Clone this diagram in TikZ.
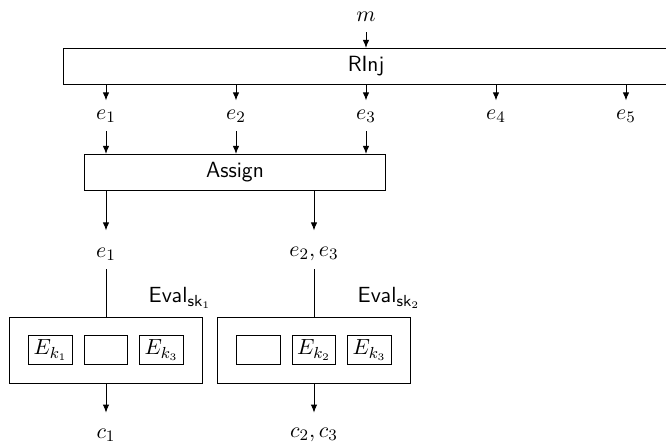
\documentclass[tikz,border=0pt]{standalone}
\usetikzlibrary{arrows.meta}
\begin{document}
\begin{tikzpicture}[x=0.5pt,y=-0.5pt, line width=0.5pt,
  every node/.style={font=\fontsize{11pt}{13pt}\selectfont},
  blk/.style={draw, inner sep=0pt, minimum height=18pt},
  lbl/.style={inner sep=0pt, minimum height=15pt},
  arr/.style={-{Latex[length=4pt,width=3.2pt]}},
  keybox/.style={draw, inner sep=0pt, minimum width=21.7pt, minimum height=14.3pt},
  evalbox/.style={draw, inner sep=0pt, minimum width=96.2pt, minimum height=33.2pt}]
\useasboundingbox (0,0) rectangle (666,443);

\node[lbl] (m) at (366,17) {$m$};
\node[blk, minimum width=303pt] (rinj) at (366,66.5) {\textsf{RInj}};
\draw[arr] (m.south) -- (m.south |- rinj.north);

\node[lbl] (e1) at (106,116) {$e_1$};
\node[lbl] (e2) at (236,116) {$e_2$};
\node[lbl] (e3) at (366,116) {$e_3$};
\node[lbl] (e4) at (496,116) {$e_4$};
\node[lbl] (e5) at (626,116) {$e_5$};
\foreach \n in {e1,e2,e3,e4,e5}
  \draw[arr] (rinj.south -| \n) -- (\n.north);

\node[blk, minimum width=150.5pt] (assign) at (235,172.5) {\textsf{Assign}};
\foreach \n in {e1,e2,e3}
  \draw[arr] (\n.south) -- (\n.south |- assign.north);

\node[lbl] (f1) at (106,254) {$e_1$};
\node[lbl] (f2) at (314,254) {$e_2, e_3$};
\draw[arr, shorten >=4pt] (assign.south -| f1) -- (f1.north);
\draw[arr, shorten >=4pt] (assign.south -| f2) -- (f2.north);

\node[evalbox] (ev1) at (106,350.5) {};
\node[evalbox] (ev2) at (314,350.5) {};
\draw (f1.south) -- (f1.south |- ev1.north);
\draw (f2.south) -- (f2.south |- ev2.north);

\node[anchor=base] (l1) at (180,302.6) {$\mathsf{Eval}_{\mathsf{sk}_1}$};
\node[anchor=base] (l2) at (389,302.6) {$\mathsf{Eval}_{\mathsf{sk}_2}$};

\node[keybox] (k11) at (50.5,350.3) {$E_{k_1}$};
\node[keybox] (k12) at (106,350.3) {};
\node[keybox] (k13) at (161.5,350.3) {$E_{k_3}$};
\node[keybox] (k21) at (258.5,350.3) {};
\node[keybox] (k22) at (314,350.3) {$E_{k_2}$};
\node[keybox] (k23) at (369.5,350.3) {$E_{k_3}$};

\node[lbl] (c1) at (106,435) {$c_1$};
\node[lbl] (c2) at (314,435) {$c_2, c_3$};
\draw[arr, shorten >=3.4pt] (ev1.south) -- (c1.north);
\draw[arr, shorten >=3.4pt] (ev2.south) -- (c2.north);
\end{tikzpicture}
\end{document}
